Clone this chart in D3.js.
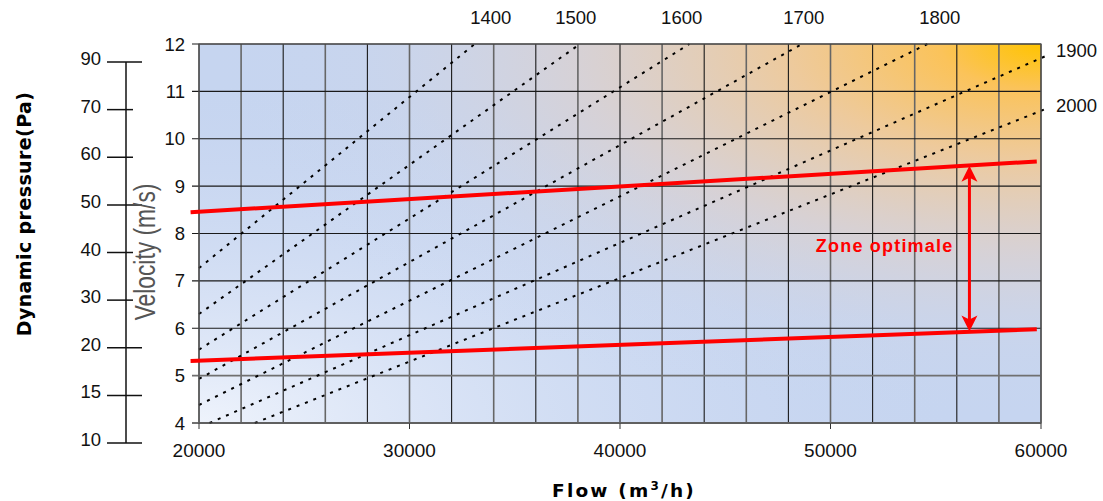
<!DOCTYPE html>
<html>
<head>
<meta charset="utf-8">
<script src="https://cdn.jsdelivr.net/npm/d3@7"></script>
<style>
  body { margin: 0; background: #fff; }
  svg text { font-family: "Liberation Sans", Arial, sans-serif; }
</style>
</head>
<body>
<div id="chart"></div>
<script>
//axis values
var flowTicks = [20000, 30000, 40000, 50000, 60000];
var flowGrid = d3.range(20000, 60001, 2000);
var velocityTicks = [4, 5, 6, 7, 8, 9, 10, 11, 12];
var pressureLabels = ["10", "15", "20", "30", "40", "50", "60", "70", "90"];
var pressureLong = ["90", "50", "20", "15", "10"]; //ticks crossing the axis on both sides

//duct diameter lines, visible end points [flow, velocity]
var diameters = [1400, 1500, 1600, 1700, 1800, 1900, 2000];
var diameterStart = [[20000, 7.27], [20000, 6.30], [20000, 5.55], [20000, 4.93], [20000, 4.38], [20500, 4], [22650, 4]];
var diameterEnd = [[33100, 12], [38100, 12], [43300, 12], [48650, 12], [54600, 12], [60400, 11.78], [60400, 10.66]];
var topLabelFlow = [33860, 37900, 42930, 48730, 55190]; //1400..1800 labels above the plot
var sideLabelVel = [11.86, 10.71];                      //1900, 2000 labels right of the plot

//optimal zone
var zoneFlow = [19600, 59800];
var zoneHigh = [8.45, 9.52];
var zoneLow = [5.31, 5.98];
var arrowFlow = 56600;
var arrowVel = [5.93, 9.43];

//set the dimensions of the graph
var width = 1103, height = 501;
var plot = {left: 199, right: 1041, top: 44, bottom: 423};

var svg = d3.select("#chart")
  .append("svg")
    .attr("width", width)
    .attr("height", height);

var x = d3.scaleLinear().domain([20000, 60000]).range([plot.left, plot.right]);
var y = d3.scaleLinear().domain([4, 12]).range([plot.bottom, plot.top]);
var yp = d3.scalePoint().domain(pressureLabels).range([443, 62]);

//background gradients
var defs = svg.append("defs");
var gBL = defs.append("radialGradient").attr("id", "gBL")
  .attr("cx", 0).attr("cy", 1).attr("r", 1);
gBL.append("stop").attr("offset", 0).attr("stop-color", "#eef3fc").attr("stop-opacity", 1);
gBL.append("stop").attr("offset", 0.9).attr("stop-color", "#c8d6f1").attr("stop-opacity", 0);

var gTR = defs.append("radialGradient").attr("id", "gTR")
  .attr("cx", 1).attr("cy", 0).attr("r", 1);
[[0, "#ffc400", 1], [0.12, "#fbc35a", 1], [0.3, "#f1c995", 0.92], [0.55, "#e2cfc4", 0.6], [0.8, "#d2d4e2", 0.2], [1, "#c6d5f0", 0]]
  .forEach(function(s) {
    gTR.append("stop").attr("offset", s[0]).attr("stop-color", s[1]).attr("stop-opacity", s[2]);
  });

var pw = plot.right - plot.left, ph = plot.bottom - plot.top;
svg.append("rect").attr("x", plot.left).attr("y", plot.top).attr("width", pw).attr("height", ph)
  .attr("fill", "#c6d5f0");
svg.append("rect").attr("x", plot.left).attr("y", plot.top).attr("width", pw).attr("height", ph)
  .attr("fill", "url(#gBL)");
svg.append("rect").attr("x", plot.left).attr("y", plot.top).attr("width", pw).attr("height", ph)
  .attr("fill", "url(#gTR)");

//grid
svg.append("g").selectAll("line")
  .data(flowGrid)
  .enter().append("line")
    .attr("x1", function(d) { return x(d); })
    .attr("x2", function(d) { return x(d); })
    .attr("y1", plot.top)
    .attr("y2", plot.bottom)
    .attr("stroke", function(d, i) { return i % 2 ? "#666" : "#1a1a1a"; })
    .attr("stroke-width", function(d, i) { return i % 2 ? 1.6 : 1.1; });

svg.append("g").selectAll("line")
  .data(velocityTicks)
  .enter().append("line")
    .attr("x1", plot.left - 7)
    .attr("x2", plot.right)
    .attr("y1", function(d) { return y(d); })
    .attr("y2", function(d) { return y(d); })
    .attr("stroke", function(d) { return d <= 5 ? "#707070" : "#1a1a1a"; })
    .attr("stroke-width", function(d) { return d <= 5 ? 1.8 : 1.1; });

//flow axis ticks and labels
svg.append("g").selectAll("line")
  .data(flowTicks)
  .enter().append("line")
    .attr("x1", function(d) { return x(d); })
    .attr("x2", function(d) { return x(d); })
    .attr("y1", plot.bottom)
    .attr("y2", plot.bottom + 6)
    .attr("stroke", "#333");

svg.append("g").selectAll("text")
  .data(flowTicks)
  .enter().append("text")
    .attr("x", function(d) { return x(d); })
    .attr("y", 457)
    .attr("text-anchor", "middle")
    .style("font-size", "19px")
    .attr("fill", "#111")
    .text(function(d) { return d; });

//velocity axis labels
svg.append("g").selectAll("text")
  .data(velocityTicks)
  .enter().append("text")
    .attr("x", 185)
    .attr("y", function(d) { return y(d) + 6.5; })
    .attr("text-anchor", "end")
    .style("font-size", "18.5px")
    .attr("fill", "#111")
    .text(function(d) { return d; });

//dynamic pressure axis
svg.append("line")
  .attr("x1", 126).attr("x2", 126)
  .attr("y1", yp("90")).attr("y2", yp("10"))
  .attr("stroke", "#111").attr("stroke-width", 1.5);

svg.append("g").selectAll("line")
  .data(pressureLabels)
  .enter().append("line")
    .attr("x1", 107)
    .attr("x2", function(d) { return pressureLong.indexOf(d) >= 0 ? 142 : 133; })
    .attr("y1", function(d) { return yp(d); })
    .attr("y2", function(d) { return yp(d); })
    .attr("stroke", "#111").attr("stroke-width", 1.5);

svg.append("g").selectAll("text")
  .data(pressureLabels)
  .enter().append("text")
    .attr("x", 101)
    .attr("y", function(d) { return yp(d) + 3; })
    .attr("text-anchor", "end")
    .style("font-size", "18.5px")
    .attr("fill", "#111")
    .text(function(d) { return d; });

//axis titles
svg.append("text")
  .attr("transform", "translate(155,252) rotate(-90) scale(0.76,1)")
  .attr("text-anchor", "middle")
  .style("font-size", "30px")
  .attr("fill", "#555")
  .text("Velocity (m/s)");

svg.append("text")
  .attr("transform", "translate(31,214) rotate(-90)")
  .attr("text-anchor", "middle")
  .style("font-family", "'DejaVu Sans', Verdana, sans-serif")
  .style("font-weight", "bold")
  .style("font-size", "19px")
  .style("letter-spacing", "0.4px")
  .attr("fill", "#000")
  .text("Dynamic pressure(Pa)");

var flowTitle = svg.append("text")
  .attr("x", 624)
  .attr("y", 497)
  .attr("text-anchor", "middle")
  .style("font-family", "'DejaVu Sans', Verdana, sans-serif")
  .style("font-weight", "bold")
  .style("font-size", "18.5px")
  .style("letter-spacing", "2.2px")
  .attr("fill", "#000");
flowTitle.append("tspan").text("Flow (m");
flowTitle.append("tspan").attr("dy", -7).style("font-size", "12px").text("3");
flowTitle.append("tspan").attr("dy", 7).text("/h)");

//diameter lines
var line = d3.line()
  .x(function(d) { return x(d[0]); })
  .y(function(d) { return y(d[1]); });

svg.append("g").selectAll("path")
  .data(diameters)
  .enter().append("path")
    .attr("d", function(d, i) { return line([diameterStart[i], diameterEnd[i]]); })
    .attr("fill", "none")
    .attr("stroke", "#000")
    .attr("stroke-width", 2)
    .attr("stroke-dasharray", "3,6");

svg.append("g").selectAll("text")
  .data(topLabelFlow)
  .enter().append("text")
    .attr("x", function(d) { return x(d); })
    .attr("y", 24)
    .attr("text-anchor", "middle")
    .style("font-size", "18.5px")
    .attr("fill", "#111")
    .text(function(d, i) { return diameters[i]; });

svg.append("g").selectAll("text")
  .data(sideLabelVel)
  .enter().append("text")
    .attr("x", 1056)
    .attr("y", function(d) { return y(d) + 6.5; })
    .style("font-size", "18.5px")
    .attr("fill", "#111")
    .text(function(d, i) { return diameters[5 + i]; });

//plot border
svg.append("rect")
  .attr("x", plot.left).attr("y", plot.top).attr("width", pw).attr("height", ph)
  .attr("fill", "none").attr("stroke", "#555").attr("stroke-width", 1.2);

//optimal zone lines
[zoneHigh, zoneLow].forEach(function(v) {
  svg.append("path")
    .attr("d", line([[zoneFlow[0], v[0]], [zoneFlow[1], v[1]]]))
    .attr("fill", "none")
    .attr("stroke", "#ff0000")
    .attr("stroke-width", 4);
});

//double arrow
var ax = x(arrowFlow), ay0 = y(arrowVel[0]), ay1 = y(arrowVel[1]);
svg.append("line")
  .attr("x1", ax).attr("x2", ax)
  .attr("y1", ay1 + 10).attr("y2", ay0 - 10)
  .attr("stroke", "#ff0000").attr("stroke-width", 3);
svg.append("path")
  .attr("d", "M" + ax + "," + ay1 + "L" + (ax - 8) + "," + (ay1 + 16) + "L" + ax + "," + (ay1 + 12) +
             "L" + (ax + 8) + "," + (ay1 + 16) + "Z")
  .attr("fill", "#ff0000");
svg.append("path")
  .attr("d", "M" + ax + "," + ay0 + "L" + (ax - 8) + "," + (ay0 - 16) + "L" + ax + "," + (ay0 - 12) +
             "L" + (ax + 8) + "," + (ay0 - 16) + "Z")
  .attr("fill", "#ff0000");

svg.append("text")
  .attr("x", ax - 16)
  .attr("y", 252)
  .attr("text-anchor", "end")
  .style("font-weight", "bold")
  .style("font-size", "18px")
  .style("letter-spacing", "1.2px")
  .attr("fill", "#ff0000")
  .text("Zone optimale");
</script>
</body>
</html>
